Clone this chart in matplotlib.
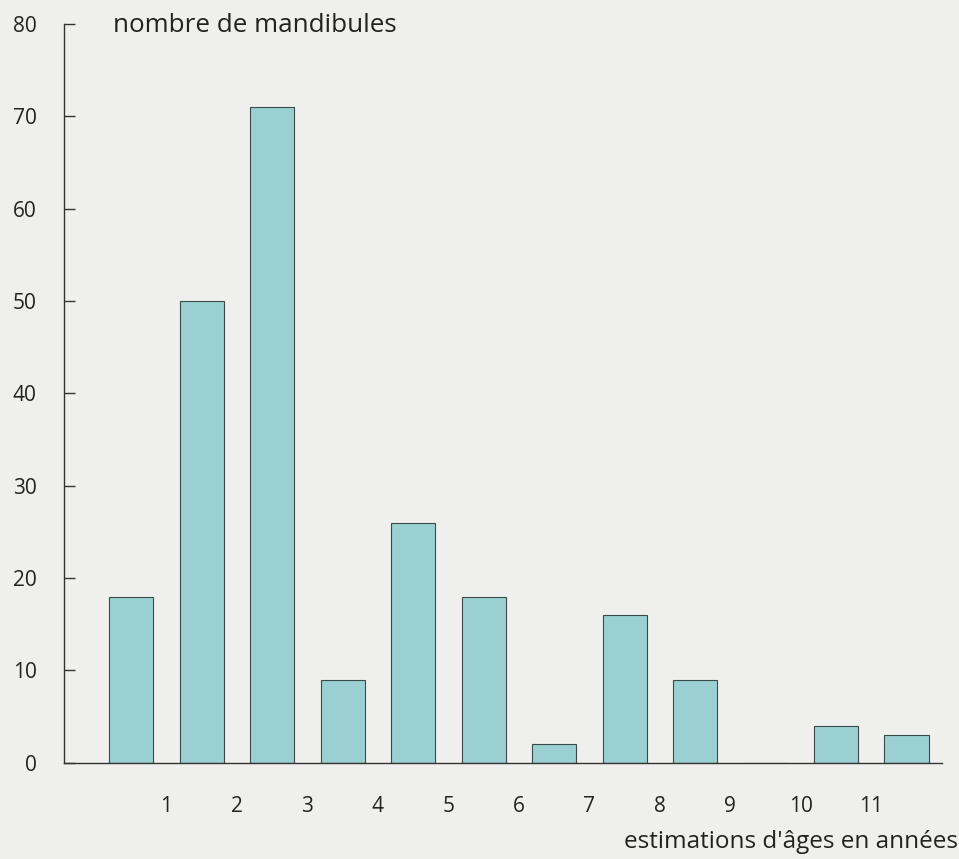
import numpy as np
import matplotlib.pyplot as plt

# age classes (years) and number of mandibles per class
ages = np.arange(12)
counts = [18, 50, 71, 9, 26, 18, 2, 16, 9, 0, 4, 3]
tick_labels = ["1", "2", "3", "4", "5", "6", "7", "8", "9", "10", "11"]
y_ticks = [0, 10, 20, 30, 40, 50, 60, 70, 80]

plt.rcParams['font.family'] = ['Open Sans', 'DejaVu Sans']

fig = plt.figure(figsize=(9.59, 8.59), dpi=100, facecolor="#efefed")
ax = fig.add_axes([0.067, 0.112, 0.915, 0.86])
ax.set_facecolor("#efefed")

ax.bar(ages + 0.5, counts, width=0.625, color="#9ad0d2",
       edgecolor="#3a4a4a", linewidth=0.8, zorder=2)

ax.set_xlim(-0.45, 12.0)
ax.set_ylim(0, 80)
ax.set_xticks(np.arange(1, 12))
ax.set_xticklabels(tick_labels, fontsize=15, color="#222222")
ax.set_yticks(y_ticks)
ax.set_yticklabels([str(v) for v in y_ticks], fontsize=15, color="#222222")

ax.tick_params(axis="x", length=0, pad=24)
ax.tick_params(axis="y", direction="in", length=8, width=1, color="#333333", pad=20)

for side in ["top", "right"]:
    ax.spines[side].set_visible(False)
ax.spines["left"].set_color("#333333")
ax.spines["bottom"].set_color("#333333")
ax.spines["left"].set_linewidth(1)
ax.spines["bottom"].set_linewidth(1)

fig.text(0.118, 0.97, "nombre de mandibules", fontsize=18.7, color="#222222",
         ha="left", va="center")
fig.text(0.999, 0.02, "estimations d'âges en années", fontsize=17.5,
         color="#222222", ha="right", va="center")

fig.savefig("out.png", dpi=100, facecolor=fig.get_facecolor())
